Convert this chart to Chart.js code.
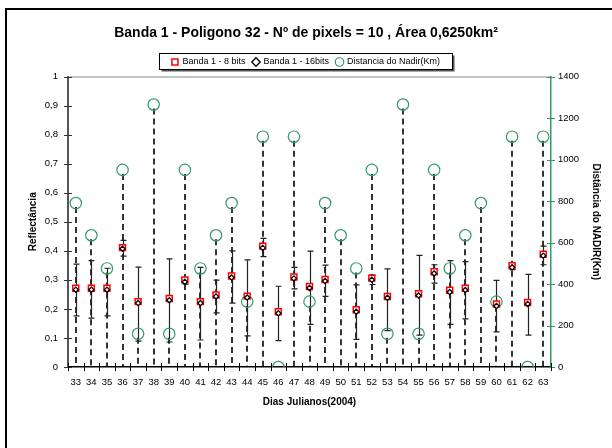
<!DOCTYPE html>
<html>
<head>
<meta charset="utf-8">
<script src="https://cdn.jsdelivr.net/npm/chart.js@4.4.1/dist/chart.umd.min.js"></script>
<style>
    html, body { margin: 0; padding: 0; background: #fff; }
    #wrap { width: 612px; height: 448px; }
</style>
</head>
<body>
<div id="wrap"><canvas id="nadirChart" width="612" height="448"></canvas></div>
<script>
// Dias julianos (2004)
const days = ['33', '34', '35', '36', '37', '38', '39', '40', '41', '42', '43', '44', '45', '46', '47', '48',
    '49', '50', '51', '52', '53', '54', '55', '56', '57', '58', '59', '60', '61', '62', '63'];

// Reflectancia banda 1 - 8 bits
const banda8 = [0.271, 0.271, 0.271, 0.411, 0.225, null, 0.236, 0.300, 0.225, 0.248, 0.313, 0.244, 0.416, 0.190, 0.310, 0.277,
    0.301, null, 0.197, 0.306, 0.243, null, 0.252, 0.328, 0.264, 0.271, null, 0.217, 0.349, 0.222, 0.388];

// Reflectancia banda 1 - 16 bits
const banda16 = [0.266, 0.266, 0.266, 0.407, 0.220, null, 0.230, 0.293, 0.220, 0.243, 0.308, 0.239, 0.410, 0.185, 0.305, 0.272,
    0.296, null, 0.190, 0.300, 0.238, null, 0.246, 0.322, 0.258, 0.265, null, 0.210, 0.343, 0.217, 0.383];

// barras de erro (16 bits)
const erroMax = [0.354, 0.366, 0.340, 0.436, 0.344, null, 0.372, 0.303, 0.343, 0.299, 0.400, 0.369, 0.443, 0.278, 0.343, 0.399,
    0.351, null, 0.283, 0.316, 0.338, null, 0.384, 0.352, 0.366, 0.363, null, 0.298, 0.352, 0.319, 0.416];
const erroMin = [0.176, 0.168, 0.176, 0.382, 0.089, null, 0.086, 0.285, 0.093, 0.186, 0.220, 0.107, 0.380, 0.091, 0.269, 0.147,
    0.243, null, 0.095, 0.284, 0.125, null, 0.110, 0.289, 0.147, 0.166, null, 0.121, 0.335, 0.110, 0.352];

// Distancia do nadir (km)
const distNadir = [790, 635, 475, 950, 160, 1265, 160, 950, 475, 635, 790, 315, 1110, 0, 1110, 315,
    790, 635, 475, 950, 160, 1265, 160, 950, 475, 635, 790, 315, 1110, 0, 1110];

const verde = '#339966';

Chart.defaults.font.family = '"Liberation Sans", Arial, sans-serif';
Chart.defaults.color = '#000';

// linhas tracejadas, barras de erro, marcas dos eixos e moldura
const extras = {
    id: 'extras',
    beforeDraw(chart)
    {
        const ctx = chart.ctx;
        const boxes = chart.legend.legendHitBoxes;
        if (!boxes || !boxes.length) return;
        const first = boxes[0];
        const last = boxes[boxes.length - 1];
        const left = Math.round(first.left) - 12.5;
        const right = Math.round(last.left + last.width) + 12.5;
        const mid = Math.round(first.top + first.height / 2);
        const top = mid - 8.5;
        const bottom = mid + 7.5;
        ctx.save();
        ctx.fillStyle = '#555';
        ctx.fillRect(left + 2, top + 2, right - left, bottom - top);
        ctx.fillStyle = '#fff';
        ctx.fillRect(left, top, right - left, bottom - top);
        ctx.strokeStyle = '#000';
        ctx.lineWidth = 1;
        ctx.strokeRect(left, top, right - left, bottom - top);
        ctx.restore();
    },
    beforeDatasetsDraw(chart)
    {
        const {ctx, chartArea, scales: {x, y, y2}} = chart;
        ctx.save();

        // borda superior da area do grafico
        ctx.strokeStyle = '#888';
        ctx.lineWidth = 1;
        ctx.beginPath();
        ctx.moveTo(chartArea.left, chartArea.top + 0.5);
        ctx.lineTo(chartArea.right, chartArea.top + 0.5);
        ctx.stroke();

        // linhas de queda da distancia
        ctx.strokeStyle = '#000';
        ctx.lineWidth = 1.6;
        ctx.setLineDash([6, 4]);
        distNadir.forEach((d, i) =>
        {
            if (!d) return;
            const px = Math.round(x.getPixelForValue(i));
            ctx.beginPath();
            ctx.moveTo(px, y2.getPixelForValue(d) + 4);
            ctx.lineTo(px, y2.getPixelForValue(0));
            ctx.stroke();
        });
        ctx.setLineDash([]);

        // barras de erro
        ctx.lineWidth = 1.2;
        ctx.strokeStyle = '#222';
        erroMax.forEach((hi, i) =>
        {
            const lo = erroMin[i];
            if (hi === null || lo === null) return;
            const px = Math.round(x.getPixelForValue(i)) + 0.5;
            const yHi = y.getPixelForValue(hi);
            const yLo = y.getPixelForValue(lo);
            ctx.beginPath();
            ctx.moveTo(px, yHi);
            ctx.lineTo(px, yLo);
            ctx.moveTo(px - 3, yHi);
            ctx.lineTo(px + 3, yHi);
            ctx.moveTo(px - 3, yLo);
            ctx.lineTo(px + 3, yLo);
            ctx.stroke();
        });
        ctx.restore();
    },
    afterDraw(chart)
    {
        const {ctx, chartArea, scales: {x, y, y2}} = chart;
        ctx.save();

        // marcas cruzando os eixos
        ctx.lineWidth = 1;
        ctx.strokeStyle = '#333';
        ctx.beginPath();
        y.ticks.forEach(t =>
        {
            const py = Math.round(y.getPixelForValue(t.value)) + 0.5;
            ctx.moveTo(chartArea.left - 4, py);
            ctx.lineTo(chartArea.left + 4, py);
        });
        ctx.stroke();

        ctx.strokeStyle = verde;
        ctx.beginPath();
        y2.ticks.forEach(t =>
        {
            const py = Math.round(y2.getPixelForValue(t.value)) + 0.5;
            ctx.moveTo(chartArea.right - 4, py);
            ctx.lineTo(chartArea.right + 4, py);
        });
        ctx.stroke();

        ctx.strokeStyle = '#000';
        ctx.beginPath();
        const half = (x.getPixelForValue(1) - x.getPixelForValue(0)) / 2;
        for (let i = 0; i <= days.length; i++)
        {
            const px = Math.round(x.getPixelForValue(i) - half) + 0.5;
            ctx.moveTo(px, chartArea.bottom - 4);
            ctx.lineTo(px, chartArea.bottom + 4);
        }
        ctx.stroke();

        // moldura externa
        ctx.lineWidth = 2;
        ctx.strokeStyle = '#000';
        ctx.strokeRect(6, 9, 800, 800);
        ctx.restore();
    }
};

const ctx = document.getElementById('nadirChart').getContext('2d');
new Chart(ctx, {
    type: 'line',
    data: {
        labels: days,
        datasets: [
            {
                label: 'Banda 1 - 8 bits',
                data: banda8,
                yAxisID: 'y',
                showLine: false,
                pointStyle: 'rect',
                pointRadius: 4.2,
                pointBorderWidth: 1.5,
                borderColor: '#ff0000',
                backgroundColor: '#ffffff',
                order: 2
            },
            {
                label: 'Banda 1 - 16bits',
                data: banda16,
                yAxisID: 'y',
                showLine: false,
                pointStyle: 'rectRot',
                pointRadius: 2.6,
                pointBorderWidth: 1.3,
                borderColor: '#000000',
                backgroundColor: '#ffffff',
                order: 1
            },
            {
                label: 'Distancia do Nadir(Km)',
                data: distNadir,
                yAxisID: 'y2',
                showLine: false,
                pointStyle: 'circle',
                pointRadius: 5.7,
                pointBorderWidth: 1.2,
                borderColor: verde,
                backgroundColor: 'rgba(0,0,0,0)',
                order: 3
            }
        ]
    },
    options: {
        responsive: false,
        animation: false,
        layout: {padding: 0},
        plugins: {
            title: {
                display: true,
                text: 'Banda 1 - Poligono 32 - Nº de pixels = 10 , Área 0,6250km²',
                color: '#000',
                font: {size: 14, weight: 'bold'},
                padding: {top: 24.6, bottom: 8.6}
            },
            legend: {
                display: true,
                labels: {
                    usePointStyle: true,
                    boxWidth: 6,
                    boxHeight: 6,
                    padding: 7.5,
                    color: '#000',
                    font: {size: 9},
                    sort: (a, b) => a.datasetIndex - b.datasetIndex
                }
            },
            tooltip: {enabled: false}
        },
        scales: {
            x: {
                type: 'category',
                offset: true,
                grid: {display: false, drawTicks: false},
                border: {display: true, color: '#000', width: 1.5},
                ticks: {autoSkip: false, maxRotation: 0, padding: 10, font: {size: 9.5}},
                title: {
                    display: true,
                    text: 'Dias Julianos(2004)',
                    font: {size: 10, weight: 'bold'},
                    padding: {top: 0, bottom: 40}
                },
                afterFit: s => { s.height = 81; }
            },
            y: {
                position: 'left',
                min: 0,
                max: 1,
                grid: {display: false, drawTicks: false},
                border: {display: true, color: '#555', width: 2},
                ticks: {
                    stepSize: 0.1,
                    padding: 10,
                    font: {size: 9.5},
                    callback: v => (v === 0 || v === 1) ? String(v) : v.toFixed(1).replace('.', ',')
                },
                title: {
                    display: true,
                    text: 'Reflectância',
                    font: {size: 10, weight: 'bold'},
                    padding: {top: 27, bottom: 0}
                },
                afterFit: s => { s.width = 68; }
            },
            y2: {
                position: 'right',
                min: 0,
                max: 1400,
                grid: {display: false, drawTicks: false},
                border: {display: true, color: verde, width: 1.5},
                ticks: {stepSize: 200, padding: 7, font: {size: 9.5}, callback: v => String(v)},
                title: {
                    display: true,
                    text: 'Distância do NADIR(Km)',
                    font: {size: 10, weight: 'bold'},
                    padding: {top: 10, bottom: 0}
                },
                afterFit: s => { s.width = 61; }
            }
        }
    },
    plugins: [extras]
});
</script>
</body>
</html>
